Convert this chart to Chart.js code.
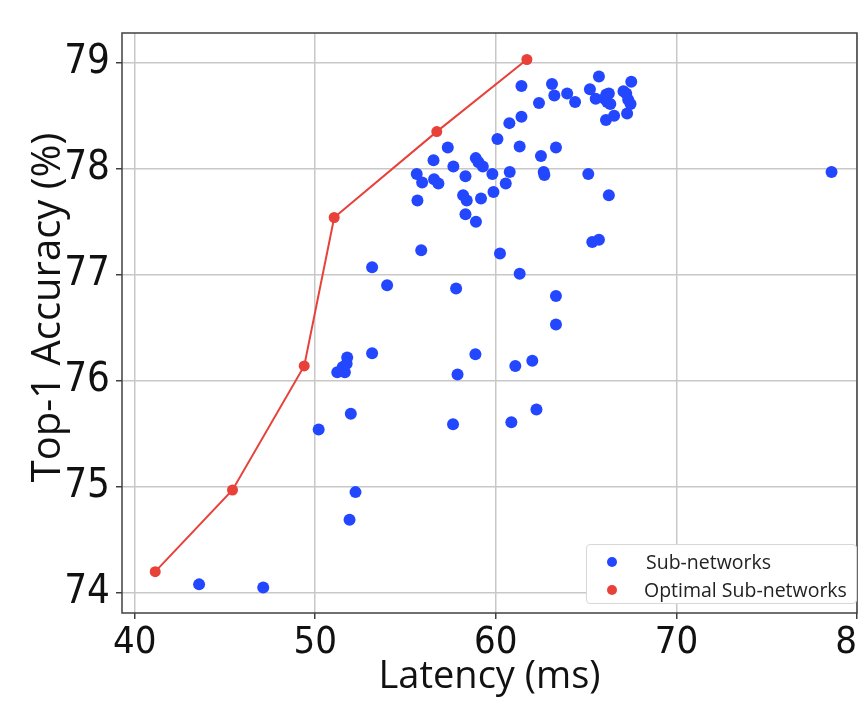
<!DOCTYPE html>
<html>
<head>
<meta charset="utf-8">
<script src="https://cdn.jsdelivr.net/npm/chart.js@4.4.1/dist/chart.umd.min.js"></script>
<style>
  html, body { margin: 0; padding: 0; background: #fff; overflow: hidden; width: 858px; height: 722px; }
  #wrap { position: relative; width: 858px; height: 722px; overflow: hidden; }
  #chart { position: absolute; left: 0; top: 0; }
  #legend {
    position: absolute; left: 586px; top: 544px; width: 271px; height: 60px;
    box-sizing: border-box; border: 1px solid #d8d8d8; border-radius: 4px; background: #fff;
    font-family: 'Open Sans', sans-serif; font-size: 19.5px; color: #222;
  }
  .item { position: absolute; left: 0; height: 24px; line-height: 24px; white-space: nowrap; }
  .dot { position: absolute; left: 20px; top: 7px; width: 10px; height: 10px; border-radius: 50%; }
  .label { position: absolute; left: 59px; top: 0; }
</style>
</head>
<body>
<div id="wrap">
  <canvas id="chart" width="898" height="722"></canvas>
  <div id="legend">
    <div class="item" style="top:5px"><span class="dot" style="background:#2347ff"></span><span class="label">Sub-networks</span></div>
    <div class="item" style="top:33px"><span class="dot" style="background:#e8413a"></span><span class="label" style="left:57px">Optimal Sub-networks</span></div>
  </div>
</div>
<script>
// Sub-networks (latency ms, top-1 accuracy %)
const subLatency = [
  43.57, 47.12, 50.19, 51.97, 52.23, 51.90, 53.15, 51.77, 51.74, 51.52,
  51.22, 51.64, 53.15, 53.98, 55.87, 57.80, 57.88, 57.63, 58.87, 61.08,
  62.02, 60.86, 62.25, 60.23, 61.32, 63.33, 63.33, 65.34, 65.71, 66.26,
  65.12, 55.62, 55.66, 55.92, 56.55, 56.58, 56.82, 57.34, 57.65, 58.32,
  58.19, 58.39, 58.32, 58.90, 58.89, 59.04, 59.28, 59.18, 59.81, 59.87,
  60.09, 60.55, 60.77, 60.75, 61.32, 61.42, 61.42, 62.39, 62.50, 62.65,
  62.69, 63.11, 63.24, 63.33, 63.95, 64.39, 65.21, 65.53, 65.71, 66.12,
  66.26, 66.02, 66.17, 66.34, 66.10, 66.55, 67.07, 67.22, 67.33, 67.46,
  67.27, 67.50, 78.59
];
const subAccuracy = [
  74.08, 74.05, 75.54, 75.69, 74.95, 74.69, 76.26, 76.22, 76.16, 76.13,
  76.08, 76.08, 77.07, 76.90, 77.23, 76.87, 76.06, 75.59, 76.25, 76.14,
  76.19, 75.61, 75.73, 77.20, 77.01, 76.80, 76.53, 77.31, 77.33, 77.75,
  77.95, 77.95, 77.70, 77.87, 78.08, 77.90, 77.86, 78.20, 78.02, 77.93,
  77.75, 77.70, 77.57, 77.50, 78.10, 78.06, 78.02, 77.72, 77.95, 77.78,
  78.28, 77.86, 77.97, 78.43, 78.21, 78.49, 78.78, 78.62, 78.12, 77.97,
  77.94, 78.80, 78.69, 78.20, 78.71, 78.63, 78.75, 78.66, 78.87, 78.70,
  78.71, 78.66, 78.63, 78.61, 78.46, 78.50, 78.73, 78.71, 78.65, 78.61,
  78.52, 78.82, 77.97
];

// Optimal sub-networks (Pareto front)
const optLatency = [41.14, 45.42, 49.39, 51.05, 56.73, 61.72];
const optAccuracy = [74.20, 74.97, 76.14, 77.54, 78.35, 79.03];

const xRange = [39.3, 80];
const yRange = [73.81, 79.28];

const BLUE = '#2347ff';
const RED = '#e8413a';

const subPoints = subLatency.map((x, i) => ({ x: x, y: subAccuracy[i] }));
const optPoints = optLatency.map((x, i) => ({ x: x, y: optAccuracy[i] }));

// frame around the plot area (top and right too)
const frame = {
  id: 'frame',
  afterDraw(chart) {
    const a = chart.chartArea;
    const c = chart.ctx;
    c.save();
    c.strokeStyle = '#404040';
    c.lineWidth = 1.5;
    c.strokeRect(a.left, a.top, a.right - a.left, a.bottom - a.top);
    c.restore();
  }
};

const ctx = document.getElementById('chart').getContext('2d');
const chart = new Chart(ctx, {
  type: 'scatter',
  data: {
    datasets: [
      {
        label: 'Optimal Sub-networks',
        data: optPoints,
        showLine: true,
        borderColor: RED,
        borderWidth: 2,
        backgroundColor: RED,
        pointBackgroundColor: RED,
        pointBorderWidth: 0,
        pointRadius: 5.5,
        order: 0
      },
      {
        label: 'Sub-networks',
        data: subPoints,
        backgroundColor: BLUE,
        pointBackgroundColor: BLUE,
        pointBorderWidth: 0,
        pointRadius: 6,
        order: 1
      }
    ]
  },
  options: {
    responsive: false,
    animation: false,
    devicePixelRatio: 1,
    layout: { padding: { top: 33, left: 0, right: 41, bottom: 0 } },
    plugins: {
      legend: { display: false },
      tooltip: { enabled: false }
    },
    scales: {
      x: {
        type: 'linear',
        min: xRange[0],
        max: xRange[1],
        afterFit(scale) { scale.height = 109; },
        ticks: {
          stepSize: 10,
          includeBounds: false,
          color: '#111',
          padding: 1,
          font: { family: "'Liberation Sans Narrow', 'DejaVu Sans Condensed', sans-serif", size: 38 }
        },
        grid: { color: '#c8c8c8', lineWidth: 1.5, tickLength: 6, tickColor: '#404040', tickWidth: 1.5 },
        border: { display: false },
        title: {
          display: true,
          text: 'Latency (ms)',
          color: '#111',
          font: { family: "'Open Sans', sans-serif", size: 38 },
          padding: { top: 0, bottom: 22 }
        }
      },
      y: {
        type: 'linear',
        min: yRange[0],
        max: yRange[1],
        afterFit(scale) { scale.width = 122; },
        ticks: {
          stepSize: 1,
          includeBounds: false,
          color: '#111',
          padding: 6,
          font: { family: "'DejaVu Sans Condensed', 'DejaVu Sans', sans-serif", size: 40 }
        },
        grid: { color: '#c8c8c8', lineWidth: 1.5, tickLength: 6, tickColor: '#404040', tickWidth: 1.5 },
        border: { display: false },
        title: {
          display: true,
          text: '   Top-1 Accuracy (%)',
          color: '#111',
          font: { family: "'Open Sans', sans-serif", size: 40 },
          padding: { top: 25, bottom: 0 }
        }
      }
    }
  },
  plugins: [frame]
});
</script>
</body>
</html>
